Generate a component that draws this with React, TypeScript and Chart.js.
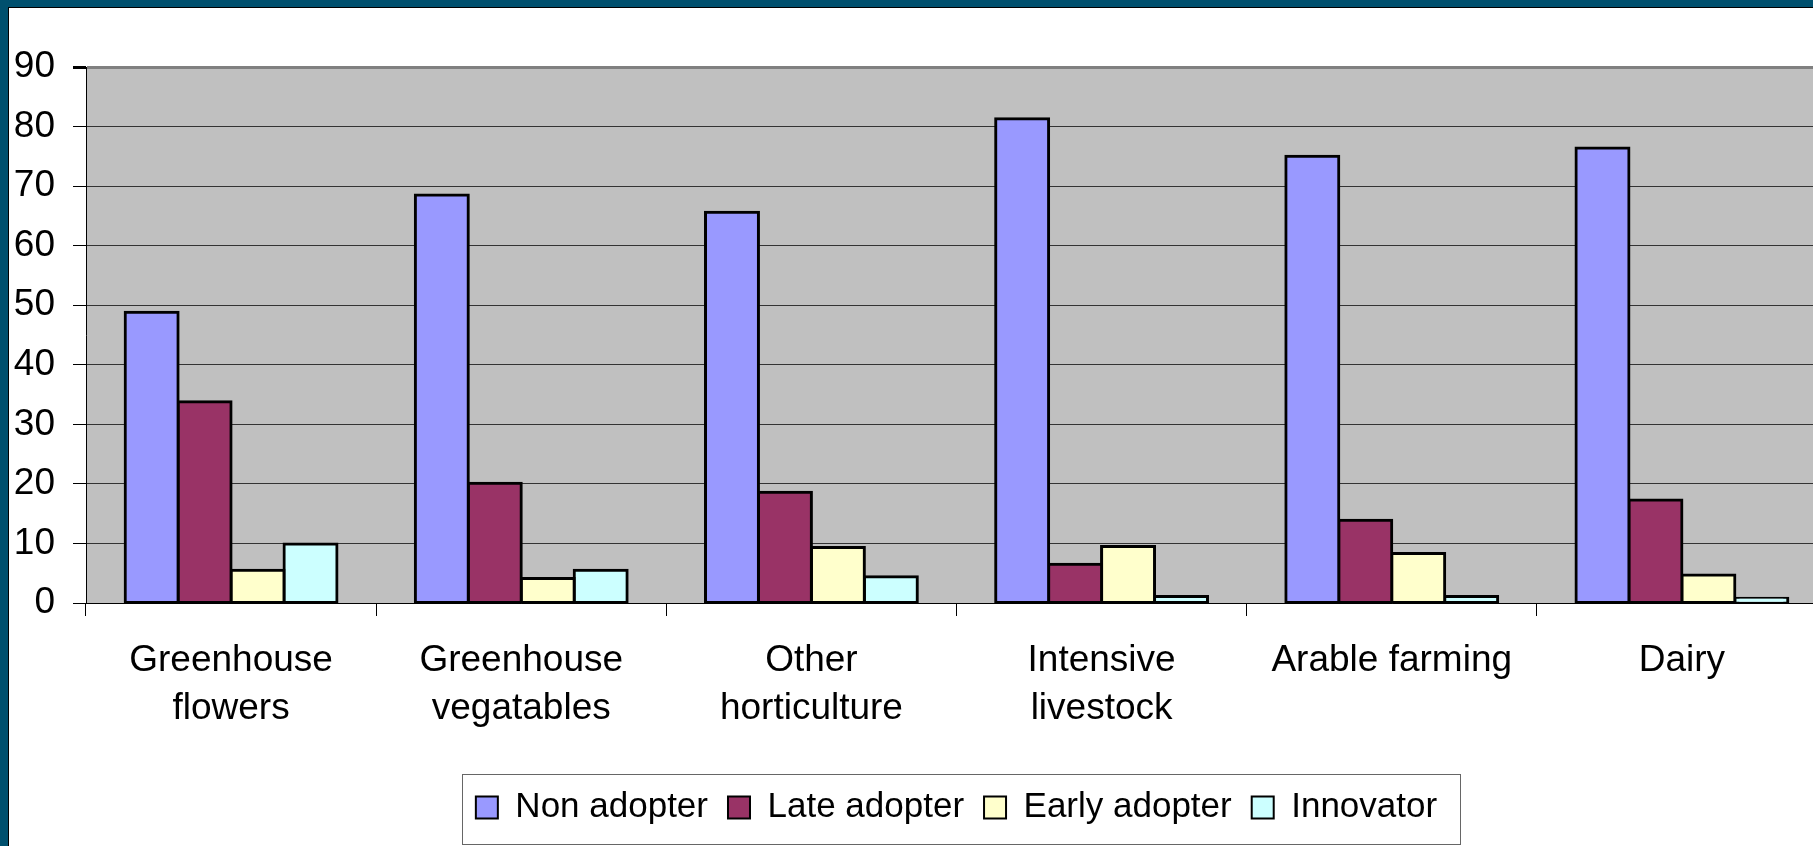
import React, { useEffect, useRef } from "react";
import { Chart, registerables } from "chart.js";

Chart.register(...registerables);

const categories: (string | string[])[] = [
  ["Greenhouse", "flowers"],
  ["Greenhouse", "vegatables"],
  ["Other", "horticulture"],
  ["Intensive", "livestock"],
  "Arable farming",
  "Dairy",
];

const seriesNames = ["Non adopter", "Late adopter", "Early adopter", "Innovator"];
const nonAdopter = [48.8, 68.5, 65.6, 81.3, 75.0, 76.4];
const lateAdopter = [33.8, 20.1, 18.6, 6.5, 13.9, 17.3];
const earlyAdopter = [5.5, 4.1, 9.3, 9.5, 8.3, 4.7];
const innovator = [9.9, 5.5, 4.4, 1.1, 1.1, 0.8];
const seriesColors = ["#9999FF", "#993366", "#FFFFCC", "#CCFFFF"];

const yMin = 0;
const yMax = 90;
const yStep = 10;

const FONT = "'Liberation Sans', Arial, sans-serif";

const plotBg = {
  id: "plotBg",
  beforeDraw(chart: any) {
    const { ctx, chartArea } = chart;
    ctx.save();
    ctx.fillStyle = "#C0C0C0";
    ctx.fillRect(chartArea.left, chartArea.top, chartArea.right - chartArea.left, chartArea.bottom - chartArea.top);
    ctx.restore();
  },
};

const legendBorder = {
  id: "legendBorder",
  afterDraw(chart: any) {
    const lg = chart.legend;
    if (!lg || !lg.legendHitBoxes || !lg.legendHitBoxes.length) return;
    const hb = lg.legendHitBoxes;
    const first = hb[0];
    const last = hb[hb.length - 1];
    const left = first.left - 14;
    const right = last.left + last.width + 23;
    const top = first.top - 16;
    const bottom = first.top + first.height + 19;
    const { ctx } = chart;
    ctx.save();
    ctx.strokeStyle = "#666666";
    ctx.lineWidth = 1;
    ctx.strokeRect(Math.round(left) + 0.5, Math.round(top) + 0.5, Math.round(right - left), Math.round(bottom - top));
    ctx.restore();
  },
};

export default function App() {
  const ref = useRef<HTMLCanvasElement | null>(null);

  useEffect(() => {
    if (!ref.current) return;
    const values = [nonAdopter, lateAdopter, earlyAdopter, innovator];
    const chart = new Chart(ref.current, {
      type: "bar",
      data: {
        labels: categories,
        datasets: seriesNames.map((name, i) => ({
          label: name,
          data: values[i],
          backgroundColor: seriesColors[i],
          borderColor: "#000000",
          borderWidth: 3,
          borderSkipped: false,
          inflateAmount: 1.5,
          categoryPercentage: 0.73,
          barPercentage: 1.0,
        })),
      },
      options: {
        responsive: false,
        animation: false,
        devicePixelRatio: 1,
        layout: { padding: { left: 12, right: 56, top: 67, bottom: 11 } },
        plugins: {
          tooltip: { enabled: false },
          legend: {
            position: "bottom",
            align: "center",
            fullSize: false,
            labels: {
              color: "#000000",
              font: { family: FONT, size: 35 },
              boxWidth: 22,
              boxHeight: 22,
              padding: 20,
              generateLabels: (c: any) =>
                c.data.datasets.map((ds: any, i: number) => ({
                  text: ds.label,
                  fillStyle: ds.backgroundColor,
                  strokeStyle: "#000000",
                  lineWidth: 2,
                  hidden: false,
                  datasetIndex: i,
                  fontColor: "#000000",
                })),
            },
          },
        },
        scales: {
          x: {
            type: "category",
            offset: true,
            afterFit: (s: any) => {
              s.height = 167;
            },
            grid: {
              display: true,
              offset: true,
              drawOnChartArea: false,
              drawTicks: true,
              tickLength: 13,
              tickColor: "#000000",
              color: "#000000",
            },
            border: { display: true, color: "#000000", width: 1 },
            ticks: {
              color: "#000000",
              font: { family: FONT, size: 37, lineHeight: 1.286 },
              padding: 21,
              maxRotation: 0,
              minRotation: 0,
              autoSkip: false,
            },
          },
          y: {
            min: yMin,
            max: yMax,
            afterFit: (s: any) => {
              s.width = 74;
            },
            grid: {
              color: (ctx: any) => (ctx.tick && ctx.tick.value === yMax ? "#808080" : "#333333"),
              lineWidth: (ctx: any) => (ctx.tick && ctx.tick.value === yMax ? 3 : 1),
              tickColor: "#000000",
              tickLength: 13,
              drawTicks: true,
            },
            border: { display: true, color: "#000000", width: 1 },
            ticks: {
              stepSize: yStep,
              color: "#000000",
              font: { family: FONT, size: 37 },
              padding: 18,
            },
          },
        },
      },
      plugins: [plotBg, legendBorder],
    } as any);
    return () => chart.destroy();
  }, []);

  return (
    <div
      style={{
        position: "fixed",
        left: 0,
        top: 0,
        width: 1813,
        height: 846,
        overflow: "hidden",
        background: "#00506E",
      }}
    >
      <div
        style={{
          position: "absolute",
          left: 8,
          top: 7,
          right: 0,
          bottom: 0,
          background: "#ffffff",
          borderLeft: "1px solid #000",
          borderTop: "1px solid #000",
        }}
      />
      <canvas ref={ref} width={1883} height={846} style={{ position: "absolute", left: 0, top: 0 }} />
    </div>
  );
}
